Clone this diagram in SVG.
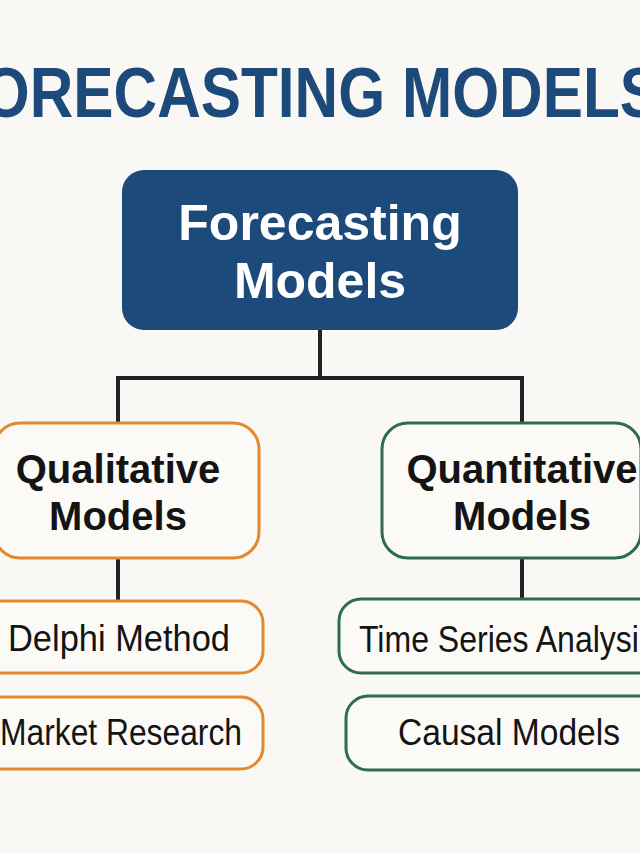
<svg xmlns="http://www.w3.org/2000/svg" width="640" height="853" viewBox="0 0 640 853">
<style>
.bg{fill:#f9f8f4}
.title{font-family:"Liberation Sans",Arial,sans-serif;font-weight:bold;font-size:71px;fill:#1c4a7a}
.root{fill:#1c4a7a}
.roott{font-family:"Liberation Sans",Arial,sans-serif;font-weight:bold;font-size:50px;fill:#ffffff;text-anchor:middle}
.qual{fill:#fbfaf6;stroke:#e3892b;stroke-width:3}
.quan{fill:#fbfaf6;stroke:#2f6b4c;stroke-width:3}
.mid{font-family:"Liberation Sans",Arial,sans-serif;font-weight:bold;font-size:40px;fill:#141414;text-anchor:middle}
.leaf{font-family:"Liberation Sans",Arial,sans-serif;font-size:36px;fill:#141414}
.conn{fill:none;stroke:#1f2328;stroke-width:4}
</style>
<rect class="bg" x="0" y="0" width="640" height="853"/>
<text class="title" x="-54" y="117" textLength="714" lengthAdjust="spacingAndGlyphs">FORECASTING MODELS</text>
<g id="connectors">
<path class="conn" d="M320 330 V378 M118 378 H522 M118 376 V423 M522 376 V423"/>
<path class="conn" d="M118 558 V601 M522 558 V599"/>
</g>
<g id="root">
<rect class="root" x="122" y="170" width="396" height="160" rx="22"/>
<text class="roott" x="320" y="240">Forecasting</text>
<text class="roott" x="320" y="298">Models</text>
</g>
<g id="qualitative">
<rect class="qual" x="-6" y="423" width="265" height="135" rx="26"/>
<text class="mid" x="118" y="483">Qualitative</text>
<text class="mid" x="118" y="530">Models</text>
</g>
<g id="quantitative">
<rect class="quan" x="382" y="423" width="259" height="135" rx="26"/>
<text class="mid" x="522" y="483">Quantitative</text>
<text class="mid" x="522" y="530">Models</text>
</g>
<g id="delphi">
<rect class="qual" x="-25" y="601" width="288" height="72" rx="22"/>
<text class="leaf" x="8" y="651" textLength="222" lengthAdjust="spacingAndGlyphs">Delphi Method</text>
</g>
<g id="market">
<rect class="qual" x="-25" y="697" width="288" height="72" rx="22"/>
<text class="leaf" x="0" y="745" textLength="242" lengthAdjust="spacingAndGlyphs">Market Research</text>
</g>
<g id="timeseries">
<rect class="quan" x="339" y="599" width="330" height="74" rx="22"/>
<text class="leaf" x="359" y="652" textLength="296" lengthAdjust="spacingAndGlyphs">Time Series Analysis</text>
</g>
<g id="causal">
<rect class="quan" x="346" y="696" width="320" height="74" rx="22"/>
<text class="leaf" x="398" y="745" textLength="222" lengthAdjust="spacingAndGlyphs">Causal Models</text>
</g>
</svg>
